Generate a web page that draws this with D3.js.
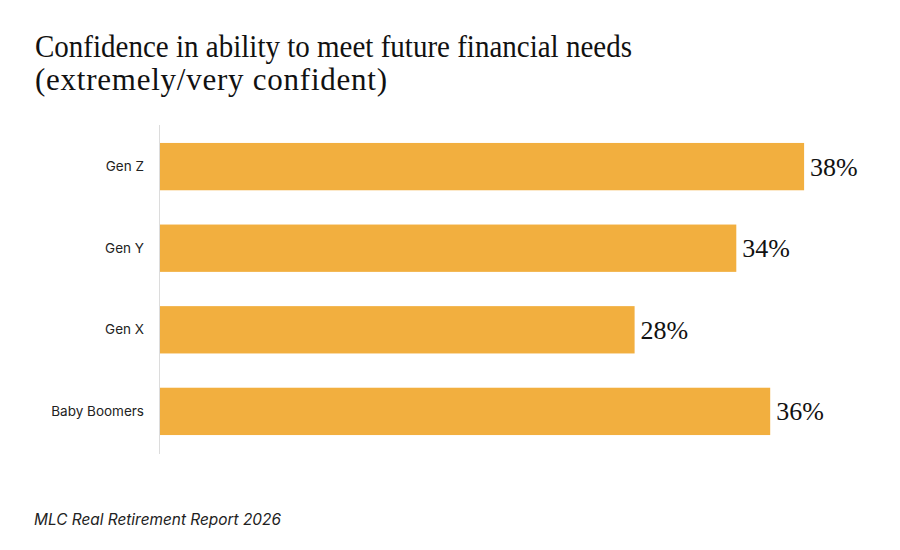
<!DOCTYPE html>
<html>
<head>
<meta charset="utf-8">
<script src="https://cdn.jsdelivr.net/npm/d3@7"></script>
<style>
  html, body { margin: 0; padding: 0; background: #fff; }
  svg { display: block; }
</style>
</head>
<body>
<svg id="chart" width="900" height="550"></svg>
<script>
  'use strict';

  const titleLines = ['Confidence in ability to meet future financial needs', '(extremely/very confident)'];
  const categories = ['Gen Z', 'Gen Y', 'Gen X', 'Baby Boomers'];
  const values = [38, 34, 28, 36];
  const sourceText = 'MLC Real Retirement Report 2026';

  const svg = d3.select('#chart');
  const serif = '"Liberation Serif", "DejaVu Serif", serif';
  const sans = 'Inter, "Noto Sans", sans-serif';

  // title, fitted to the reference width
  const title = svg.append('g');
  titleLines.forEach(function (line, i) {
    const t = title.append('text')
      .attr('x', 35)
      .attr('y', 57 + i * 33)
      .attr('font-family', serif)
      .attr('font-size', 31)
      .attr('fill', '#111')
      .text(line);
    const target = i === 0 ? 597 : 352;
    const w = t.node().getComputedTextLength();
    if (w > target) t.attr('textLength', target).attr('lengthAdjust', 'spacingAndGlyphs');
    else t.attr('textLength', target).attr('lengthAdjust', 'spacing');
  });

  const x = d3.scaleLinear().domain([0, 40]).range([160, 838]);
  const y = d3.scaleBand().domain(categories).range([125, 453]).paddingInner(0.42).paddingOuter(0.22);

  svg.append('line')
    .attr('x1', 159.5).attr('x2', 159.5)
    .attr('y1', 125).attr('y2', 454)
    .attr('stroke', '#dcdcdc').attr('stroke-width', 1);

  const rows = categories.map(function (c, i) { return { cat: c, value: values[i] }; });

  svg.append('g').selectAll('rect')
    .data(rows)
    .join('rect')
    .attr('x', x(0))
    .attr('y', function (d) { return y(d.cat); })
    .attr('width', function (d) { return x(d.value) - x(0); })
    .attr('height', y.bandwidth())
    .attr('fill', '#F2AF3F');

  svg.append('g').selectAll('text')
    .data(rows)
    .join('text')
    .attr('x', function (d) { return x(d.value) + 6; })
    .attr('y', function (d) { return y(d.cat) + y.bandwidth() / 2 + 9; })
    .attr('font-family', serif)
    .attr('font-size', 26)
    .attr('fill', '#111')
    .text(function (d) { return d.value + '%'; });

  svg.append('g').selectAll('text')
    .data(rows)
    .join('text')
    .attr('x', 144)
    .attr('y', function (d) { return y(d.cat) + y.bandwidth() / 2 + 4.5; })
    .attr('text-anchor', 'end')
    .attr('font-family', sans)
    .attr('font-size', 13.5)
    .attr('fill', '#222')
    .text(function (d) { return d.cat; });

  svg.append('text')
    .attr('x', 34)
    .attr('y', 525)
    .attr('font-family', sans)
    .attr('font-style', 'italic')
    .attr('font-size', 15.4)
    .attr('fill', '#222')
    .text(sourceText);
</script>
</body>
</html>
